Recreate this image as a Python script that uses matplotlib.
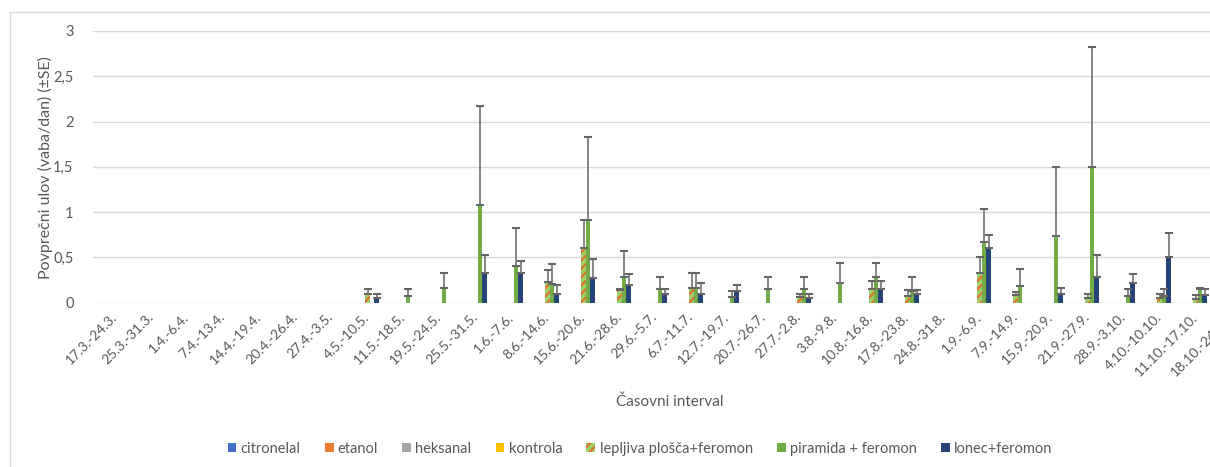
#grouped bar chart of mean daily catch per bait type, with +SE error bars

import matplotlib.pyplot as plt
from matplotlib.lines import Line2D
import numpy as np

plt.rcParams['font.family'] = ['Lato', 'DejaVu Sans']
plt.rcParams['hatch.linewidth'] = 1.6

intervals = ['17.3.-24.3.', '25.3.-31.3.', '1.4.-6.4.', '7.4.-13.4.', '14.4.-19.4.', '20.4.-26.4.',
             '27.4.-3.5.', '4.5.-10.5.', '11.5.-18.5.', '19.5.-24.5.', '25.5.-31.5.', '1.6.-7.6.',
             '8.6.-14.6.', '15.6.-20.6.', '21.6.-28.6.', '29.6.-5.7.', '6.7.-11.7.', '12.7.-19.7.',
             '20.7.-26.7.', '27.7.-2.8.', '3.8.-9.8.', '10.8.-16.8.', '17.8.-23.8.', '24.8.-31.8.',
             '1.9.-6.9.', '7.9.-14.9.', '15.9.-20.9.', '21.9.-27.9.', '28.9.-3.10.', '4.10.-10.10.',
             '11.10.-17.10.', '18.10.-24.10.']

yticks = [0, 0.5, 1, 1.5, 2, 2.5, 3]
ytick_labels = ['0', '0,5', '1', '1,5', '2', '2,5', '3']

zeros = [0.0] * 32

citronelal = zeros
etanol = zeros
heksanal = zeros
kontrola = zeros

lepljiva = [0, 0, 0, 0, 0, 0, 0, 0.10, 0, 0, 0, 0, 0.23, 0.60, 0.14, 0,
            0.16, 0, 0, 0.06, 0, 0.15, 0.07, 0, 0.33, 0.08, 0, 0.05, 0, 0.05, 0.045, 0]
lepljiva_se = [0, 0, 0, 0, 0, 0, 0, 0.05, 0, 0, 0, 0, 0.13, 0.31, 0.01, 0,
               0.17, 0, 0, 0.04, 0, 0.09, 0.07, 0, 0.18, 0.04, 0, 0.045, 0, 0.045, 0.035, 0]

piramida = [0, 0, 0, 0, 0, 0, 0, 0, 0.075, 0.16, 1.08, 0.41, 0.21, 0.91, 0.28, 0.15,
            0.16, 0.06, 0.15, 0.15, 0.22, 0.28, 0.13, 0, 0.67, 0.18, 0.74, 1.50, 0.07, 0.07, 0.15, 0]
piramida_se = [0, 0, 0, 0, 0, 0, 0, 0, 0.075, 0.17, 1.09, 0.42, 0.22, 0.92, 0.29, 0.13,
               0.17, 0.07, 0.13, 0.13, 0.22, 0.16, 0.15, 0, 0.37, 0.19, 0.76, 1.32, 0.08, 0.08, 0.01, 0]

lonec = [0, 0, 0, 0, 0, 0, 0, 0.05, 0, 0, 0.33, 0.33, 0.10, 0.27, 0.19, 0.10,
         0.10, 0.125, 0, 0.055, 0, 0.15, 0.10, 0, 0.60, 0, 0.10, 0.28, 0.22, 0.51, 0.085, 0]
lonec_se = [0, 0, 0, 0, 0, 0, 0, 0.05, 0, 0, 0.20, 0.13, 0.09, 0.21, 0.13, 0.05,
            0.12, 0.075, 0, 0.045, 0, 0.09, 0.04, 0, 0.15, 0, 0.06, 0.25, 0.10, 0.26, 0.065, 0]

series = [
    ('citronelal', citronelal, zeros, dict(color='#4472C4')),
    ('etanol', etanol, zeros, dict(color='#ED7D31')),
    ('heksanal', heksanal, zeros, dict(color='#A5A5A5')),
    ('kontrola', kontrola, zeros, dict(color='#FFC000')),
    ('lepljiva plošča+feromon', lepljiva, lepljiva_se,
     dict(facecolor='#9BD168', edgecolor='#E2712A', hatch='////', linewidth=0)),
    ('piramida + feromon', piramida, piramida_se, dict(color='#70AD47')),
    ('lonec+feromon', lonec, lonec_se, dict(color='#264478')),
]

W, H = 1210, 467
fig = plt.figure(figsize=(W / 100, H / 100), dpi=100)
# plot area runs past the right edge of the figure
ax = fig.add_axes([93 / W, (H - 302.7) / H, 1152 / W, 271.7 / H])

x = np.arange(len(intervals))
bw = 0.125
txt = '#595959'

for k, (name, vals, se, style) in enumerate(series):
    vals = np.array(vals)
    se = np.array(se)
    pos = x + (k - 3) * bw
    ax.bar(pos, vals, bw, label=name, zorder=3, **style)
    m = (vals > 0) | (se > 0)
    if m.any():
        ax.errorbar(pos[m], vals[m], yerr=[np.zeros(m.sum()), se[m]], fmt='none',
                    ecolor='#666666', elinewidth=1.1, capsize=3.2, capthick=1.5, zorder=4)

ax.set_xlim(-0.5, len(intervals) - 0.5)
ax.set_ylim(0, 3)
ax.set_yticks(yticks)
ax.set_yticklabels(ytick_labels)
ax.yaxis.grid(True, color='#D9D9D9', linewidth=1.0, zorder=0)
ax.set_axisbelow(True)
for s in ax.spines.values():
    s.set_visible(False)
ax.tick_params(axis='y', length=0, pad=14, labelsize=10.5, labelcolor=txt)
ax.tick_params(axis='x', length=0, pad=6, labelsize=10, labelcolor=txt)
ax.set_xticks(x)
ax.set_xticklabels(intervals, rotation=45, ha='right', rotation_mode='anchor')

fig.text(45 / W, 1 - 168 / H, 'Povprečni ulov (vaba/dan) (±SE)', rotation=90,
         ha='center', va='center', fontsize=11.5, color=txt)
fig.text(670 / W, 1 - 402 / H, 'Časovni interval', ha='center', va='center',
         fontsize=11, color=txt)

fig.legend(loc='center', bbox_to_anchor=(640 / W, 1 - 449 / H), ncol=7, frameon=False,
           fontsize=10.5, handlelength=0.6, handleheight=0.6, handletextpad=0.3,
           columnspacing=1.65, labelcolor=txt)

# chart area border
fig.add_artist(Line2D([9.5 / W, 9.5 / W], [1 - 11.5 / H, 0], color='#D9D9D9', lw=1.0))
fig.add_artist(Line2D([9.5 / W, 1], [1 - 11.5 / H, 1 - 11.5 / H], color='#D9D9D9', lw=1.0))

fig.savefig('out.png', dpi=100)
